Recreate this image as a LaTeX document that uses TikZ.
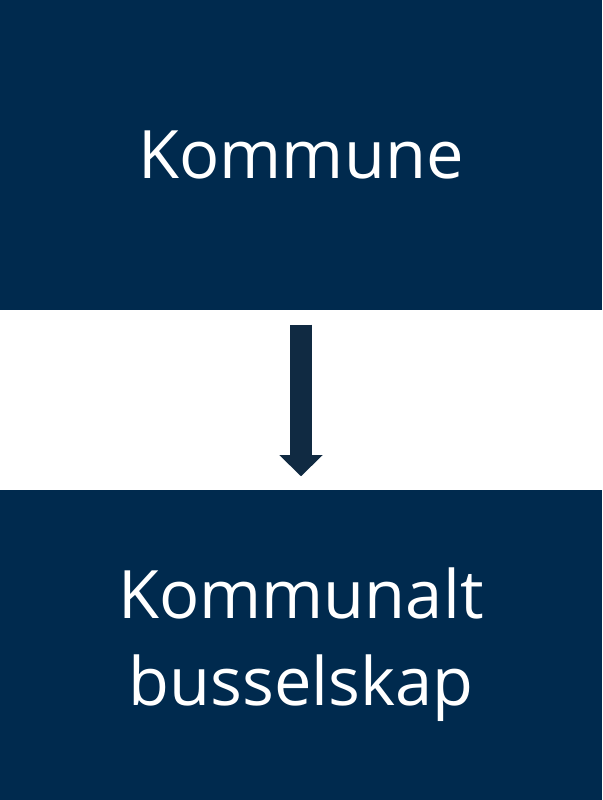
\documentclass[tikz,border=0pt]{standalone}
\usepackage{fontspec}
\setmainfont{Open Sans}
\usetikzlibrary{arrows.meta}
\definecolor{boxblue}{RGB}{0,42,78}
\definecolor{arrowblue}{RGB}{16,42,66}
\tikzset{
  boxnode/.style={fill=boxblue, text=white, minimum width=6.02cm,
    minimum height=3.10cm, inner sep=0pt, align=center,
    font=\fontsize{19}{24.7}\selectfont},
  blockarrow/.style={draw=arrowblue, line width=6.2pt,
    -{Triangle[width=11.9pt,length=6pt]},
    shorten <=0.14cm, shorten >=0.13cm}
}
\begin{document}
\begin{tikzpicture}
    \useasboundingbox (0,0) rectangle (6.02,-8);
    \def\x{3.01}
    \node[boxnode] (kommune) at (\x, -1.55) {Kommune};
    \node[boxnode] (selskap) at (\x, -6.45) {Kommunalt\\busselskap};
    \path (kommune) edge [blockarrow] (selskap);
  \end{tikzpicture}
\end{document}
